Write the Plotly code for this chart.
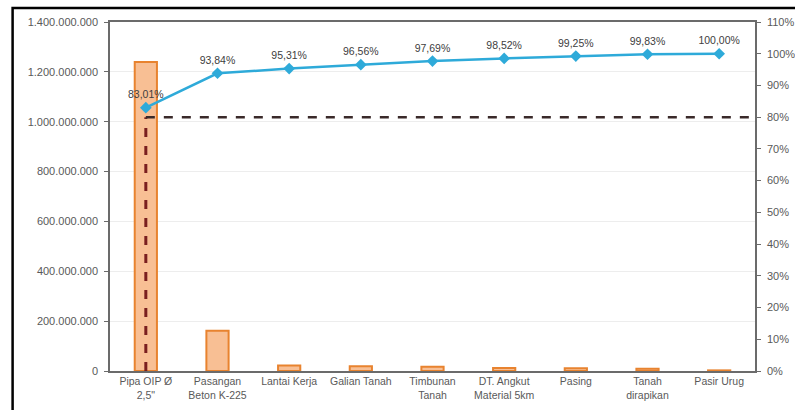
import plotly.graph_objects as go

categories = ["Pipa OIP Ø<br>2,5\"", "Pasangan<br>Beton K-225", "Lantai Kerja", "Galian Tanah",
              "Timbunan<br>Tanah", "DT. Angkut<br>Material 5km", "Pasing", "Tanah<br>dirapikan", "Pasir Urug"]
costs = [1240000000, 161800000, 21960000, 18670000, 16880000, 12400000, 10900000, 8660000, 2540000]
cum_pct = [0.8301, 0.9384, 0.9531, 0.9656, 0.9769, 0.9852, 0.9925, 0.9983, 1.0000]
threshold = 0.80
left_ticks = [0, 200000000, 400000000, 600000000, 800000000, 1000000000, 1200000000, 1400000000]
right_ticks = [i / 10 for i in range(12)]

fig = go.Figure()
fig.add_trace(go.Bar(
    x=categories, y=costs, width=0.31,
    marker=dict(color="#F8BF94", line=dict(color="#E8832F", width=2)),
    showlegend=False, hoverinfo="skip"))

# vertical dashed line at first category up to threshold
fig.add_trace(go.Scatter(
    x=[categories[0], categories[0]], y=[0, threshold], yaxis="y2", mode="lines",
    line=dict(color="#7A1F1F", width=3, dash="dash"), showlegend=False, hoverinfo="skip"))

fig.add_trace(go.Scatter(
    x=categories, y=cum_pct, yaxis="y2", mode="lines+markers+text",
    line=dict(color="#2EAAD9", width=2.5),
    marker=dict(symbol="diamond", size=9, color="#2EAAD9"),
    texttemplate="%{y:.2%}", textposition="top center", cliponaxis=False,
    textfont=dict(family="Liberation Sans", size=10.5, color="#404040"),
    showlegend=False, hoverinfo="skip"))

fig.add_shape(type="line", xref="x", yref="y2", x0=0, x1=8.5, y0=threshold, y1=threshold,
              line=dict(color="#3A2A2A", width=2.5, dash="dash"))

# outer frame
fig.add_shape(type="rect", xref="paper", yref="paper", x0=-0.151, x1=1.2, y0=-0.2, y1=1.04,
              line=dict(color="black", width=2.5), layer="above")

fig.update_layout(
    width=795, height=410,
    margin=dict(l=110, r=40, t=22, b=39),
    paper_bgcolor="white", plot_bgcolor="white",
    separators=",.",
    font=dict(family="Liberation Sans", size=11, color="#595959"),
    bargap=0.69,
    xaxis=dict(showline=True, linecolor="#6b6b6b", linewidth=1.5, mirror=True, automargin=False,
               tickfont=dict(size=10.5), range=[-0.5, 8.5], showgrid=False, ticks=""),
    yaxis=dict(range=[0, 1400000000], tickvals=left_ticks, tickformat=",d", automargin=False,
               showline=True, linecolor="#6b6b6b", linewidth=1.5, ticks="outside", ticklen=4,
               tickcolor="#6b6b6b", showgrid=True, gridcolor="#EDEDED", zeroline=False,
               tickfont=dict(size=11), ticklabelstandoff=4),
    yaxis2=dict(range=[0, 1.1], tickvals=right_ticks, tickformat=".0%", overlaying="y", side="right",
                showline=True, linecolor="#6b6b6b", linewidth=1.5, ticks="outside", ticklen=4,
                tickcolor="#6b6b6b", showgrid=False, zeroline=False, tickfont=dict(size=11),
                ticklabelstandoff=4, automargin=False),
)

fig.write_html("out.html")
